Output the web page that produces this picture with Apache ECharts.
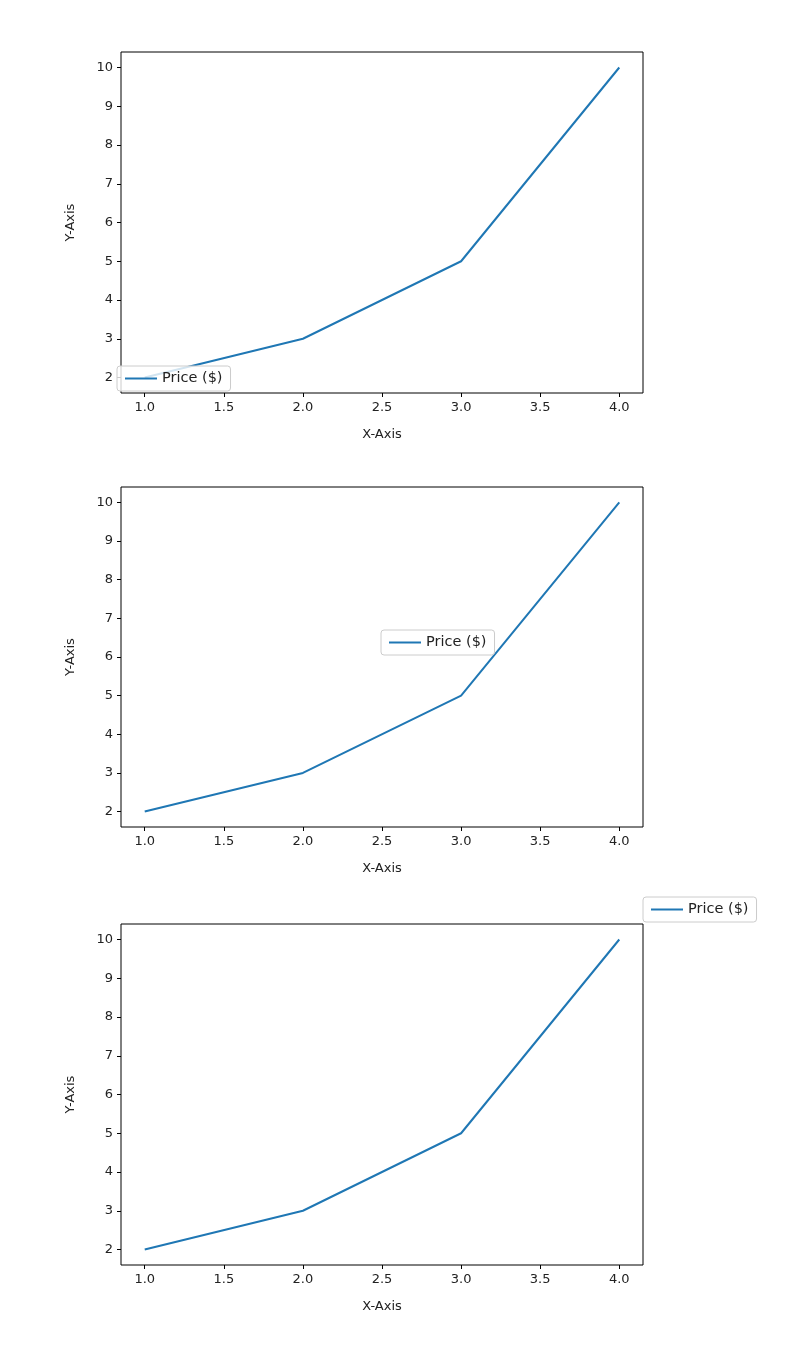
<!DOCTYPE html>
<html><head><meta charset="utf-8">
<script src="https://cdn.jsdelivr.net/npm/echarts@6/dist/echarts.min.js"></script>
<style>html,body{margin:0;padding:0;background:#fff}#c{width:810px;height:1368px}</style>
</head><body><div id="c"></div>
<script>
const xValues = [1, 2, 3, 4];
const priceValues = [2, 3, 5, 10];
const seriesName = 'Price ($)';
const xTicks = [1.0, 1.5, 2.0, 2.5, 3.0, 3.5, 4.0];
const yTicks = [2, 3, 4, 5, 6, 7, 8, 9, 10];

const grids = [
  {left:121, top:52, width:522, height:341},
  {left:121, top:487, width:522, height:340},
  {left:121, top:924, width:522, height:341}
];
const legendPos = [
  {left:117, top:366},
  {left:381, top:630},
  {left:643, top:897}
];
const font = {fontFamily:'DejaVu Sans', fontSize:13, color:'#222'};
const opt = {
  animation:false,
  backgroundColor:'#fff',
  grid: grids.map(g=>Object.assign({show:true, borderColor:'#000', borderWidth:1, backgroundColor:'transparent'}, g)),
  xAxis: grids.map((g,i)=>({
    type:'value', gridIndex:i, min:0.85, max:4.15, interval:0.5,
    name:'X-Axis', nameLocation:'middle', nameGap:35, nameTextStyle:Object.assign({},font),
    axisLine:{show:false}, splitLine:{show:false},
    axisTick:{show:true, length:4, lineStyle:{color:'#000'}, customValues:xTicks},
    axisLabel:Object.assign({margin:8, customValues:xTicks, formatter:v=>v.toFixed(1)},font)
  })),
  yAxis: grids.map((g,i)=>({
    type:'value', gridIndex:i, min:1.6, max:10.4,
    name:'Y-Axis', nameLocation:'middle', nameGap:44, nameRotate:90, nameTextStyle:Object.assign({},font),
    axisLine:{show:false}, splitLine:{show:false},
    axisTick:{show:true, length:4, lineStyle:{color:'#000'}, customValues:yTicks},
    axisLabel:Object.assign({margin:8, customValues:yTicks},font)
  })),
  legend: legendPos.map(p=>Object.assign({
    data:[seriesName], orient:'vertical', icon:'rect', itemWidth:32, itemHeight:2,
    backgroundColor:'rgba(255,255,255,0.8)', borderColor:'#ccc', borderWidth:1, borderRadius:3,
    padding:[5,8,5,8], itemGap:4, textStyle:Object.assign({},font,{fontSize:14.5})
  }, p)),
  series: grids.map((g,i)=>({
    name:seriesName, type:'line', xAxisIndex:i, yAxisIndex:i, showSymbol:false,
    data:xValues.map((x,j)=>[x, priceValues[j]]),
    lineStyle:{color:'#1f77b4', width:2}, itemStyle:{color:'#1f77b4'}, z:1
  }))
};
const chart = echarts.init(document.getElementById('c'));
chart.setOption(opt);
</script></body></html>
